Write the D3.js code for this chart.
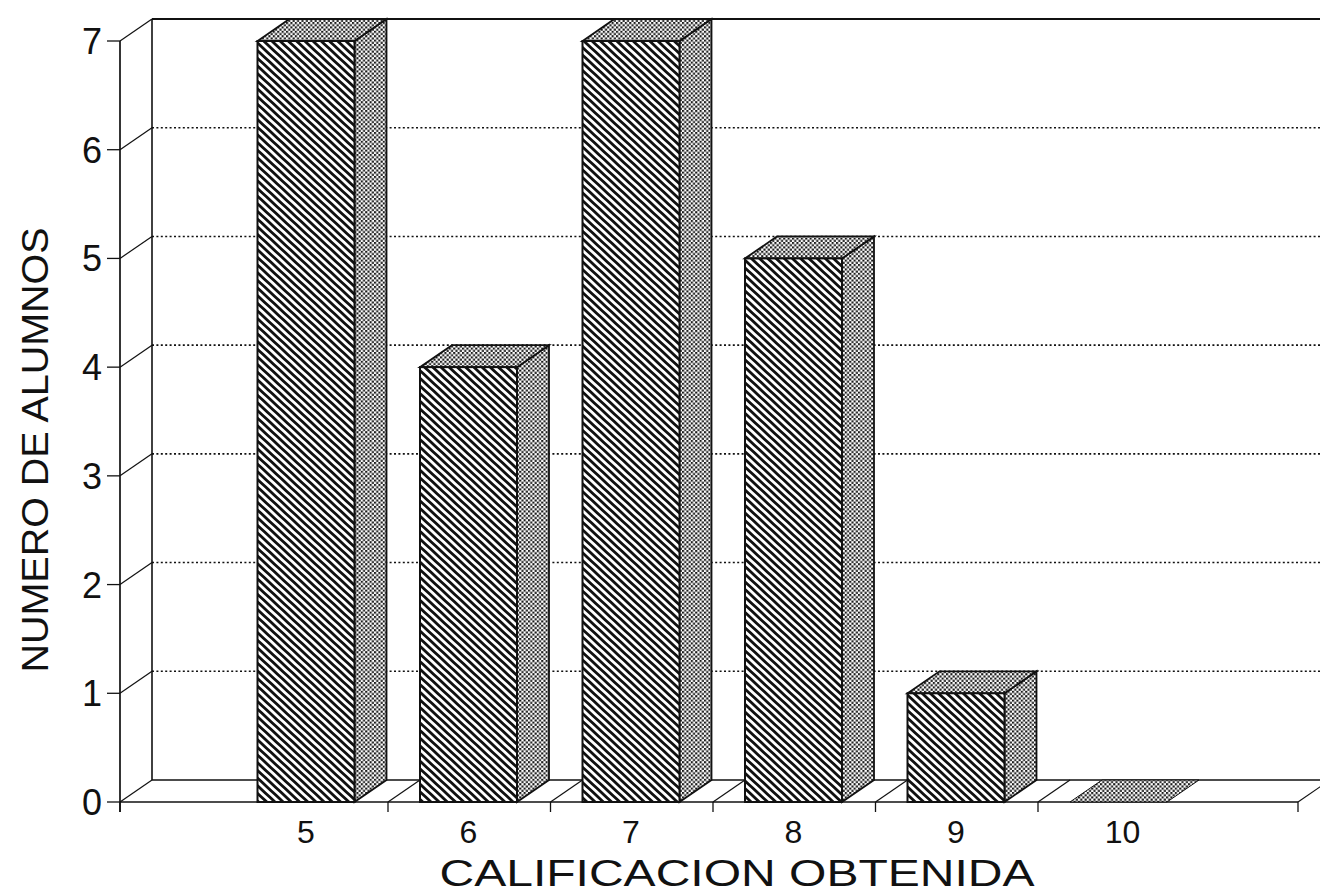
<!DOCTYPE html>
<html>
<head>
<meta charset="utf-8">
<script src="https://cdn.jsdelivr.net/npm/d3@7/dist/d3.min.js"></script>
<style>
  html, body { margin: 0; padding: 0; background: #fff; }
  svg { display: block; }
  text { font-family: "Liberation Sans", Arial, Helvetica, sans-serif; fill: #111; }
</style>
</head>
<body>
<svg id="chart" width="1320" height="895"></svg>
<script>
// ---- data ----
const categories = ["5", "6", "7", "8", "9", "10"];
const values = [7, 4, 7, 5, 1, 0];
const yTicks = [0, 1, 2, 3, 4, 5, 6, 7];
const yTitle = "NUMERO DE ALUMNOS";
const xTitle = "CALIFICACION OBTENIDA";

// ---- layout ----
const W = 1320, H = 895;
const frontLeft = 120, frontRight = 1298;
const yBottom = 802, yTopFront = 41;
const DX = 32, DY = -22;            // depth offset (back = front + D)
const step = 162.5;
const bandStart = 225.5;
const faceOffset = 32, faceW = 97;

const svg = d3.select("#chart");

// patterns
const defs = svg.append("defs");
const hatch = defs.append("pattern")
  .attr("id", "hatch").attr("patternUnits", "userSpaceOnUse")
  .attr("width", 5.6).attr("height", 5.6)
  .attr("patternTransform", "rotate(43)");
hatch.append("rect").attr("width", 5.6).attr("height", 5.6).attr("fill", "#fff");
hatch.append("rect").attr("width", 5.6).attr("height", 2.8).attr("fill", "#111");

const dots = defs.append("pattern")
  .attr("id", "dots").attr("patternUnits", "userSpaceOnUse")
  .attr("width", 4.4).attr("height", 4.4);
dots.append("rect").attr("width", 4.4).attr("height", 4.4).attr("fill", "#fff");
dots.append("rect").attr("x", 0).attr("y", 0).attr("width", 2.1).attr("height", 2.1).attr("fill", "#1a1a1a");
dots.append("rect").attr("x", 2.2).attr("y", 2.2).attr("width", 2.1).attr("height", 2.1).attr("fill", "#1a1a1a");

// scales
const y = d3.scaleLinear().domain([0, 7]).range([yBottom, yTopFront]);
const x = d3.scaleBand().domain(categories)
  .range([bandStart, bandStart + step * categories.length]).paddingInner(0).paddingOuter(0);

const line = d3.line();
const g = svg.append("g");

// back wall left edge and top
g.append("path").attr("d", line([[frontLeft + DX, y(7) + DY], [frontLeft + DX, yBottom + DY]]))
  .attr("stroke", "#111").attr("stroke-width", 1.6).attr("fill", "none");
g.append("path").attr("d", line([[frontLeft + DX, y(7) + DY], [W, y(7) + DY]]))
  .attr("stroke", "#111").attr("stroke-width", 1.8).attr("fill", "none");

// gridlines (dotted across back wall, solid diagonals on side wall)
yTicks.filter(t => t > 0 && t < 7).forEach(t => {
  g.append("path").attr("d", line([[frontLeft + DX, y(t) + DY], [W, y(t) + DY]]))
    .attr("stroke", "#111").attr("stroke-width", 1.6).attr("stroke-dasharray", "2,2.4").attr("fill", "none");
});
yTicks.filter(t => t > 0).forEach(t => {
  g.append("path").attr("d", line([[frontLeft, y(t)], [frontLeft + DX, y(t) + DY]]))
    .attr("stroke", "#111").attr("stroke-width", 1.2).attr("fill", "none");
});

// floor
g.append("path").attr("d", line([[frontLeft + DX, yBottom + DY], [W, yBottom + DY]]))
  .attr("stroke", "#111").attr("stroke-width", 1.5).attr("fill", "none");
g.append("path").attr("d", line([[frontLeft, yBottom], [frontRight, yBottom]]))
  .attr("stroke", "#111").attr("stroke-width", 1.7).attr("fill", "none");

// x ticks: band boundaries between categories plus axis ends
const xTickPos = [frontLeft];
categories.slice(1).forEach(c => xTickPos.push(x(c)));
xTickPos.push(frontRight);
xTickPos.forEach(px => {
  g.append("path").attr("d", line([[px, yBottom], [px + DX, yBottom + DY]]))
    .attr("stroke", "#111").attr("stroke-width", 1.2).attr("fill", "none");
  g.append("path").attr("d", line([[px, yBottom], [px, yBottom + 10]]))
    .attr("stroke", "#111").attr("stroke-width", 1.3).attr("fill", "none");
});

// front y axis
g.append("path").attr("d", line([[frontLeft, y(7)], [frontLeft, yBottom + 10]]))
  .attr("stroke", "#111").attr("stroke-width", 1.7).attr("fill", "none");
yTicks.forEach(t => {
  g.append("path").attr("d", line([[frontLeft - 13, y(t)], [frontLeft, y(t)]]))
    .attr("stroke", "#111").attr("stroke-width", 1.3).attr("fill", "none");
  g.append("text").attr("x", frontLeft - 18).attr("y", y(t)).attr("dy", "0.36em")
    .attr("text-anchor", "end").attr("font-size", 36).text(t);
});

// bars
categories.forEach((c, i) => {
  const v = values[i];
  const L = x(c) + faceOffset, R = L + faceW;
  const yv = y(v), y0 = y(0);
  const bg = g.append("g");
  // side face
  if (v > 0) {
    bg.append("path").attr("d", line([[R, yv], [R + DX, yv + DY], [R + DX, y0 + DY], [R, y0]]) + "Z")
      .attr("fill", "url(#dots)").attr("stroke", "#111").attr("stroke-width", 1.8);
  }
  // top face
  bg.append("path").attr("d", line([[L, yv], [R, yv], [R + DX, yv + DY], [L + DX, yv + DY]]) + "Z")
    .attr("fill", "url(#dots)").attr("stroke", "#111").attr("stroke-width", v > 0 ? 1.8 : 1.0);
  // front face
  if (v > 0) {
    bg.append("rect").attr("x", L).attr("y", yv).attr("width", faceW).attr("height", y0 - yv)
      .attr("fill", "url(#hatch)").attr("stroke", "#111").attr("stroke-width", 2);
  }
});

// x tick labels
categories.forEach(c => {
  g.append("text").attr("x", x(c) + faceOffset + faceW / 2 + (c === "10" ? 4 : 0)).attr("y", 843)
    .attr("text-anchor", "middle").attr("font-size", 32).text(c);
});

// axis titles
g.append("text").attr("transform", "translate(48,450) rotate(-90)")
  .attr("text-anchor", "middle").attr("font-size", 37)
  .attr("textLength", 445).attr("lengthAdjust", "spacingAndGlyphs").text(yTitle);
g.append("text").attr("x", 737).attr("y", 886)
  .attr("text-anchor", "middle").attr("font-size", 36)
  .attr("textLength", 595).attr("lengthAdjust", "spacingAndGlyphs").text(xTitle);
</script>
</body>
</html>
